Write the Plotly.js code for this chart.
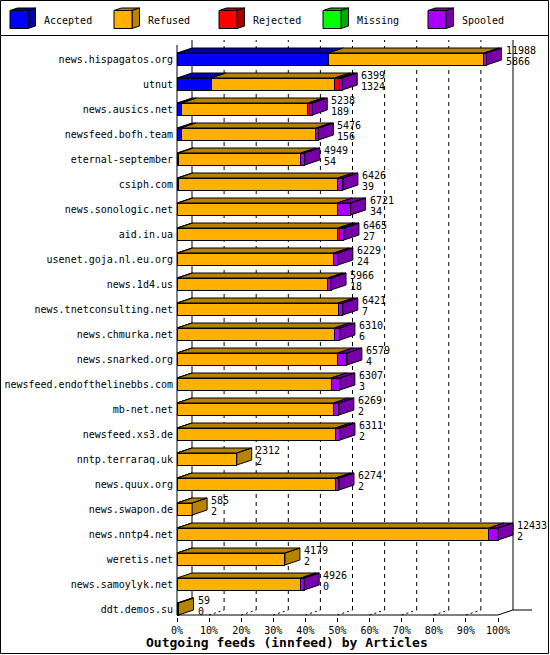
<!DOCTYPE html>
<html><head><meta charset="utf-8">
<script src="https://cdn.plot.ly/plotly-3.0.1.min.js"></script>
<style>html,body{margin:0;padding:0;background:#fff}#chart{width:550px;height:655px}</style>
</head><body><div id="chart"></div>
<script>
const hosts=["news.hispagatos.org","utnut","news.ausics.net","newsfeed.bofh.team","eternal-september","csiph.com","news.sonologic.net","aid.in.ua","usenet.goja.nl.eu.org","news.1d4.us","news.tnetconsulting.net","news.chmurka.net","news.snarked.org","newsfeed.endofthelinebbs.com","mb-net.net","newsfeed.xs3.de","nntp.terraraq.uk","news.quux.org","news.swapon.de","news.nntp4.net","weretis.net","news.samoylyk.net","ddt.demos.su"];
const total=[11988,6399,5238,5476,4949,6426,6721,6465,6229,5966,6421,6310,6579,6307,6269,6311,2312,6274,585,12433,4179,4926,59];
const accepted=[5866,1324,189,156,54,39,34,27,24,18,7,6,4,3,2,2,2,2,2,2,2,0,0];
const refused=[6017,4788,4883,5220,4740,6192,6171,6205,6050,5818,6246,6091,6215,5969,6060,6139,2310,6142,583,12081,4177,4791,59];
const rejected=[0,167,50,0,0,0,0,78,0,0,0,0,0,0,0,0,0,0,0,0,0,0,0];
const missing=[0,0,0,0,0,0,0,0,0,0,0,0,0,0,0,0,0,0,0,0,0,0,0];
const spooled=[105,120,116,100,155,195,516,155,155,130,168,213,360,335,207,170,0,130,0,350,0,135,0];
const seriesNames=["Accepted","Refused","Rejected","Missing","Spooled"];
const tickPct=[0,10,20,30,40,50,60,70,80,90,100];

const series=[accepted,refused,rejected,missing,spooled];
const frontColors=["#0000FF","#FFB000","#FF0000","#00FF00","#AA00FF"];
const darkColors=["#0000AA","#B88400","#AA0000","#00AA00","#7700AA"];
const FONT="DejaVu Sans Mono";

// geometry (pixels)
const W=550,H=655;
const X0PX=177, X100PX=498, DXPX=15, DYPX=5, ROWPX=25, ROW0PX=59;
const L=174, R=16, T=39, B=38;
const plotW=W-L-R, plotH=H-T-B;
const maxTotal=Math.max(...total);
const u=maxTotal/(X100PX-X0PX);
const DX=DXPX*u, DY=DYPX/ROWPX, HB=0.24;
const n=hosts.length;
const xRange=[(L-X0PX)*u,(W-R-X0PX)*u];
const yRange=[(H-B-ROW0PX)/ROWPX,(T-ROW0PX)/ROWPX];
const yBot=(615-ROW0PX)/ROWPX, yTop=(40-ROW0PX)/ROWPX;
const xEnd=(532-X0PX)*u;

const idx=hosts.map((_,i)=>i);
const traces=[];
series.forEach((s,k)=>{
  traces.push({type:'bar',orientation:'h',name:seriesNames[k],y:idx,x:s.map(v=>v>0?v:null),
    width:HB*2,marker:{color:frontColors[k],line:{color:'#000',width:1}},hoverinfo:'skip',showlegend:false});
});
// top faces and side faces
const polys=series.map(()=>({x:[],y:[]}));
for(let i=0;i<n;i++){
  let cum=0,last=-1,end=0;
  series.forEach((s,k)=>{
    const v=s[i];
    if(v>0){
      const x0=cum,x1=cum+v;
      const P=polys[k];
      P.x.push(x0,x1,x1+DX,x0+DX,x0,null);
      P.y.push(i-HB,i-HB,i-HB-DY,i-HB-DY,i-HB,null);
      cum=x1;last=k;end=x1;
    }
  });
  if(last>=0){
    const P=polys[last];
    P.x.push(end,end+DX,end+DX,end,end,null);
    P.y.push(i-HB,i-HB-DY,i+HB-DY,i+HB,i-HB,null);
  }
}
polys.forEach((P,k)=>{
  if(P.x.length) traces.push({type:'scatter',mode:'lines',x:P.x,y:P.y,fill:'toself',fillcolor:darkColors[k],
    line:{color:'#000',width:1},hoverinfo:'skip',showlegend:false});
});

const shapes=[];
function dl(x0,y0,x1,y1,dash){shapes.push({type:'line',xref:'x',yref:'y',x0,y0,x1,y1,layer:'below',line:{color:'#000',width:1,dash:dash||'solid'}});}
dl(DX,yTop,DX,yBot-DY);
dl(maxTotal+DX,yTop,maxTotal+DX,yBot-DY);
dl(0,yTop+DY,0,yBot);
dl(0,yBot,maxTotal,yBot);
dl(maxTotal,yBot,maxTotal+DX,yBot-DY);
dl(maxTotal+DX,yBot-DY,xEnd,yBot-DY);
dl(0,yBot,DX,yBot-DY);
tickPct.filter(p=>p>0&&p<100).forEach(p=>{
  const xp=p*maxTotal/100;
  dl(xp,yBot,xp+DX,yBot-DY,'2px,3px');
  dl(xp+DX,yBot-DY,xp+DX,yTop,'4px,4px');
});

// paper helpers for frame/legend
const px2x=p=>(p-L)/plotW, py2y=p=>(H-B-p)/plotH;
function pl(x0,y0,x1,y1,w){shapes.push({type:'line',xref:'paper',yref:'paper',x0:px2x(x0),y0:py2y(y0),x1:px2x(x1),y1:py2y(y1),line:{color:'#000',width:w||1}});}
function pp(pts,fill){
  const d='M'+pts.map(p=>px2x(p[0])+','+py2y(p[1])).join('L')+'Z';
  shapes.push({type:'path',xref:'paper',yref:'paper',path:d,fillcolor:fill,line:{color:'#000',width:1}});
}
pl(0.5,0.5,548.5,0.5);pl(0.5,653.5,548.5,653.5);pl(0.5,0.5,0.5,653.5);pl(548.5,0.5,548.5,653.5);
pl(0.5,35.5,548.5,35.5);

const annotations=[];
const legX=[10,114,219,323,428];
seriesNames.forEach((nm,k)=>{
  const x=legX[k];
  pp([[x,10.5],[x+18,10.5],[x+25.5,8],[x+7.5,8]],darkColors[k]);
  pp([[x+18,10.5],[x+25.5,8],[x+25.5,26],[x+18,28.5]],darkColors[k]);
  pp([[x,10.5],[x+18,10.5],[x+18,28.5],[x,28.5]],frontColors[k]);
  annotations.push({xref:'paper',yref:'paper',x:px2x(x+32),y:py2y(20),xanchor:'left',yanchor:'middle',
    text:nm,showarrow:false,font:{family:FONT,size:10,color:'#000'}});
});
for(let i=0;i<n;i++){
  annotations.push({xref:'x',yref:'y',x:total[i],y:i,xanchor:'left',yanchor:'middle',xshift:DXPX+2,yshift:9,
    text:String(total[i]),showarrow:false,font:{family:FONT,size:10,color:'#000'}});
  annotations.push({xref:'x',yref:'y',x:total[i],y:i,xanchor:'left',yanchor:'middle',xshift:DXPX+2,yshift:-2,
    text:String(accepted[i]),showarrow:false,font:{family:FONT,size:10,color:'#000'}});
}
annotations.push({xref:'paper',yref:'paper',x:px2x(287),y:py2y(642),xanchor:'center',yanchor:'middle',
  text:'<b>Outgoing feeds (innfeed) by Articles</b>',showarrow:false,font:{family:FONT,size:13,color:'#000'}});

const layout={
  width:W,height:H,margin:{l:L,r:R,t:T,b:B,pad:0},
  paper_bgcolor:'#fff',plot_bgcolor:'#fff',barmode:'stack',showlegend:false,
  xaxis:{range:xRange,tickvals:tickPct.map(p=>p*maxTotal/100),ticktext:tickPct.map(p=>p+'%'),
    ticks:'outside',ticklen:4,tickcolor:'#000',showgrid:false,zeroline:false,showline:false,
    tickfont:{family:FONT,size:10,color:'#000'}},
  yaxis:{range:yRange,tickvals:idx,ticktext:hosts,ticks:'',showgrid:false,zeroline:false,showline:false,
    tickfont:{family:FONT,size:10,color:'#000'}},
  shapes,annotations,hovermode:false
};
Plotly.newPlot('chart',traces,layout,{staticPlot:true,displayModeBar:false});
</script></body></html>
